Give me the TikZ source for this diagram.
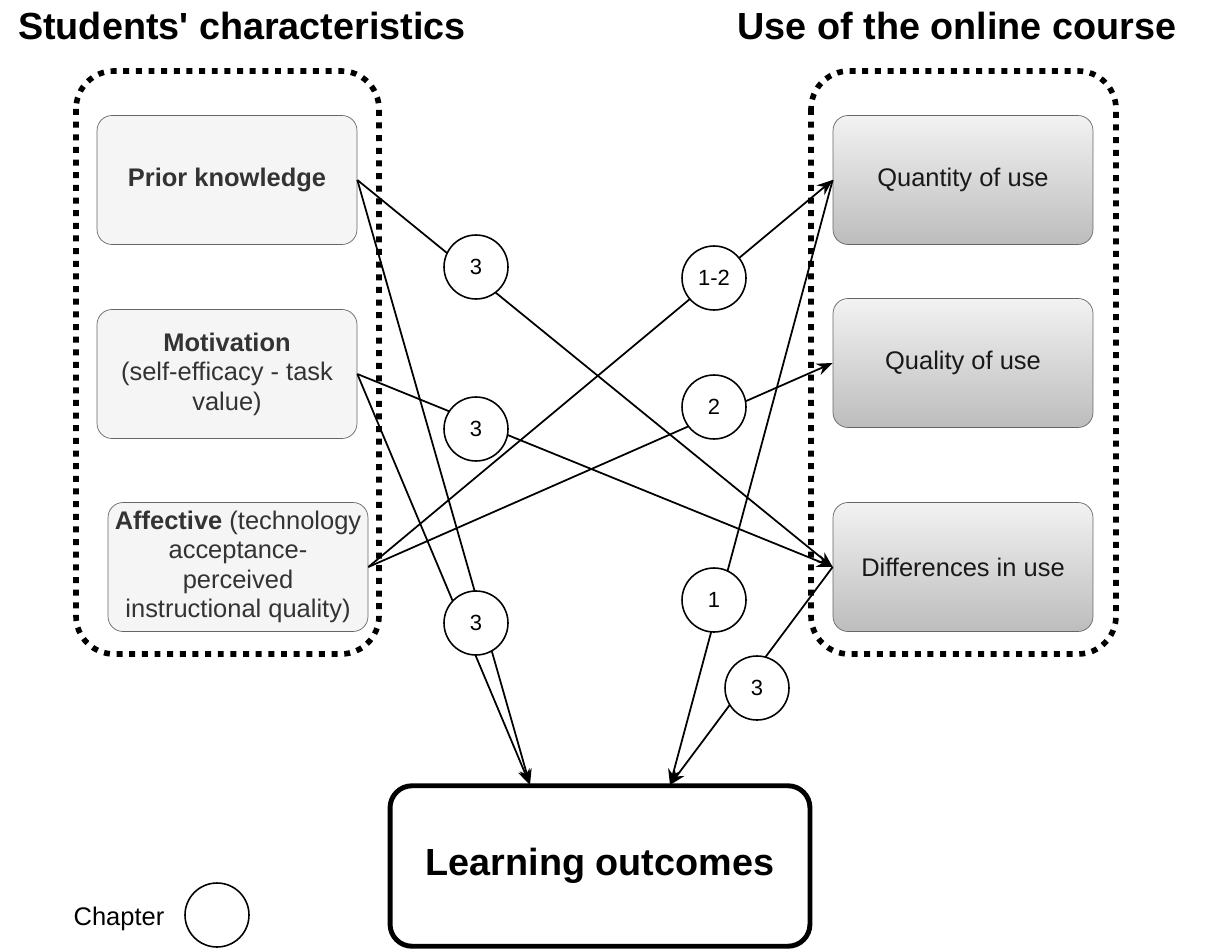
\documentclass[tikz,border=0pt]{standalone}
\usepackage{fontspec}
\setmainfont{Liberation Sans}
\usetikzlibrary{arrows.meta}
\definecolor{boxfill}{HTML}{F5F5F5}
\definecolor{boxline}{HTML}{666666}
\definecolor{boxtext}{HTML}{333333}
\begin{document}
\begin{tikzpicture}[x=0.02cm,y=-0.02cm,>={Stealth[length=9pt,width=7pt]},
        every node/.style={font=\fontsize{14.5}{16.8}\selectfont},
        title/.style={anchor=base,font=\fontsize{21.5}{26}\selectfont\bfseries},
        group/.style={line width=3.2pt,dash pattern=on 3.4pt off 3.8pt,rounded corners=0.76cm},
        charbox/.style={draw=boxline,fill=boxfill,text=boxtext,rounded corners=0.3cm,
            minimum width=5.2cm,minimum height=2.58cm,align=center,inner sep=1pt},
        usebox/.style={draw=boxline,top color=gray!10,bottom color=gray!52,text=black!90,
            rounded corners=0.3cm,minimum width=5.2cm,minimum height=2.58cm},
        chap/.style={circle,draw,line width=0.9pt,fill=white,minimum size=1.28cm,inner sep=0pt,
            font=\fontsize{12.5}{14}\selectfont},
        link/.style={->,line width=1pt}]
            \useasboundingbox (0,0) rectangle (1206,949);
            \node[title] (sctitle) at (242,40) {Students\textquotesingle{} characteristics};
            \node[title] (usetitle) at (957,40) {Use of the online course};
            \draw[group] (76,71) rectangle (379,654);
            \draw[group] (811,71) rectangle (1116,654);
            \node[charbox] (pk) at (227,180) {\textbf{Prior knowledge}};
            \node[charbox] (mot) at (227,374) {\textbf{Motivation}\\(self-efficacy - task\\value)};
            \node[charbox] (aff) at (238,567) {\textbf{Affective} (technology\\acceptance-\\perceived\\instructional quality)};
            \node[usebox] (qty) at (963,180) {Quantity of use};
            \node[usebox] (qly) at (963,363) {Quality of use};
            \node[usebox] (diff) at (963,567) {Differences in use};
            \node[draw,line width=2.8pt,rounded corners=0.44cm,minimum width=8.4cm,minimum height=3.21cm,
                font=\fontsize{21.5}{26}\selectfont\bfseries] (lo) at (600,866) {Learning outcomes};
            \coordinate (loL) at (530,785);
            \coordinate (loR) at (670,785);
            \draw[link] (pk.east) -- (diff.west);
            \draw[link] (pk.east) -- (loL);
            \draw[link] (mot.east) -- (diff.west);
            \draw[link] (mot.east) -- (loL);
            \draw[link] (aff.east) -- (qty.west);
            \draw[link] (aff.east) -- (qly.west);
            \draw[link] (qty.west) -- (loR);
            \draw[link] (diff.west) -- (loR);
            \node[chap] (c3a) at (476,267) {3};
            \node[chap] (c3b) at (476,429) {3};
            \node[chap] (c3c) at (476,623) {3};
            \node[chap] (c12) at (714,278) {1-2};
            \node[chap] (c2) at (714,407) {2};
            \node[chap] (c1) at (714,600) {1};
            \node[chap] (c3d) at (757,688) {3};
            \node (chaptext) at (119,919) {Chapter};
            \node[chap] (chapkey) at (217,915) {};
\end{tikzpicture}
\end{document}
